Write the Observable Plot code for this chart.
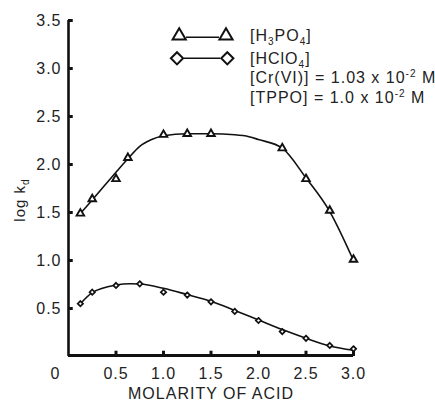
<!DOCTYPE html>
<html><head><meta charset="utf-8">
<script src="https://cdn.jsdelivr.net/npm/d3@7"></script>
<script src="https://cdn.jsdelivr.net/npm/@observablehq/plot@0.6"></script>
<style>
body{margin:0;background:#fff}
svg text{letter-spacing:1px}
</style>
</head><body><div id="chart"></div>
<script>
// Measured points
const h3po4X = [0.125, 0.25, 0.5, 0.625, 1.0, 1.25, 1.5, 2.25, 2.5, 2.75, 3.0];
const h3po4Y = [1.49, 1.64, 1.85, 2.07, 2.31, 2.32, 2.32, 2.17, 1.85, 1.52, 1.01];
const hclo4X = [0.125, 0.25, 0.5, 0.75, 1.0, 1.25, 1.5, 1.75, 2.0, 2.25, 2.5, 2.75, 3.0];
const hclo4Y = [0.55, 0.67, 0.74, 0.757, 0.67, 0.64, 0.57, 0.47, 0.375, 0.26, 0.19, 0.115, 0.08];
// Fitted (drawn) curves
const h3po4FitX = [0.125, 0.25, 0.5, 0.625, 0.75, 0.875, 1.0, 1.25, 1.5, 1.75, 1.9, 2.0, 2.25, 2.5, 2.75, 3.0];
const h3po4FitY = [1.49, 1.63, 1.92, 2.06, 2.19, 2.26, 2.30, 2.32, 2.32, 2.31, 2.29, 2.26, 2.17, 1.86, 1.51, 1.0];
const hclo4FitX = [0.125, 0.25, 0.5, 0.65, 0.75, 1.0, 1.25, 1.5, 1.75, 2.0, 2.25, 2.5, 2.75, 3.0];
const hclo4FitY = [0.55, 0.665, 0.745, 0.758, 0.755, 0.71, 0.645, 0.575, 0.48, 0.38, 0.28, 0.19, 0.11, 0.065];
// Ticks
const xTicks = [0.5, 1.0, 1.5, 2.0, 2.5, 3.0];
const yTicks = [0.5, 1.0, 1.5, 2.0, 2.5, 3.0, 3.5];
const xLabel = "MOLARITY OF ACID";
const originLabel = "0";

const h3po4 = h3po4X.map((x, i) => ({x, y: h3po4Y[i]}));
const hclo4 = hclo4X.map((x, i) => ({x, y: hclo4Y[i]}));
const h3po4Fit = h3po4FitX.map((x, i) => ({x, y: h3po4FitY[i]}));
const hclo4Fit = hclo4FitX.map((x, i) => ({x, y: hclo4FitY[i]}));

const W = 435, H = 401;
const chart = Plot.plot({
  width: W, height: H,
  marginLeft: 68, marginRight: 82, marginTop: 20, marginBottom: 45,
  style: {fontFamily: "'Liberation Sans', Arial, sans-serif", fontSize: "16px", color: "#222", background: "#fff"},
  x: {domain: [0, 3]},
  y: {domain: [0, 3.5]},
  marks: [
    Plot.axisX({ticks: xTicks, tickSize: 0, tickPadding: 11, tickFormat: d => d.toFixed(1), label: null, fill: "#222"}),
    Plot.axisY({ticks: yTicks, tickSize: 0, tickPadding: 7, tickFormat: d => d.toFixed(1), label: null, fill: "#222"}),
    Plot.text([originLabel], {x: () => 0, y: () => 0, text: d => d, dx: -13, dy: 11, lineAnchor: "top", fill: "#222"}),
    Plot.text([xLabel], {frameAnchor: "bottom", text: d => d, dy: 31, lineAnchor: "top", fill: "#222"}),
    // axes lines
    Plot.ruleX([0], {y1: 0, y2: 3.5, stroke: "#111", strokeWidth: 2.6}),
    Plot.ruleY([0], {x1: 0, x2: 3.0, stroke: "#111", strokeWidth: 2.8, dy: -1}),
    // inward ticks
    Plot.ruleX(xTicks, {x: d => d, y1: 0, y2: 0.055, stroke: "#111", strokeWidth: 3}),
    Plot.ruleY(yTicks, {y: d => d, x1: 0, x2: 0.05, stroke: "#111", strokeWidth: 3}),
    // curves
    Plot.line(h3po4Fit, {x: "x", y: "y", curve: "monotone-x", stroke: "#111", strokeWidth: 1.6}),
    Plot.line(hclo4Fit, {x: "x", y: "y", curve: "monotone-x", stroke: "#111", strokeWidth: 1.6}),
    // markers
    Plot.dot(h3po4, {x: "x", y: "y", symbol: "triangle2", r: 3.6, stroke: "#111", strokeWidth: 1.9, fill: "#fff"}),
    Plot.dot(hclo4, {x: "x", y: "y", symbol: "diamond2", r: 2.4, stroke: "#111", strokeWidth: 1.7, fill: "#fff"})
  ]
});
document.getElementById("chart").appendChild(chart);

// Legend, annotation and y label (subscripts need tspans)
const svg = d3.select(chart);
const g = svg.append("g").attr("font-family", "'Liberation Sans', Arial, sans-serif").attr("font-size", 16).attr("fill", "#222").attr("text-anchor", "start");
g.append("line").attr("x1", 186).attr("x2", 219).attr("y1", 37.3).attr("y2", 37.3).attr("stroke", "#111").attr("stroke-width", 1.6);
[179.2, 226].forEach(cx => g.append("path").attr("d", d3.symbol(d3.symbolTriangle2, 125)()).attr("transform", `translate(${cx},35.8)`).attr("fill", "#fff").attr("stroke", "#111").attr("stroke-width", 2));
g.append("line").attr("x1", 184).attr("x2", 220).attr("y1", 58.3).attr("y2", 58.3).attr("stroke", "#111").attr("stroke-width", 1.6);
[177, 227.3].forEach(cx => g.append("path").attr("d", d3.symbol(d3.symbolDiamond2, 95)()).attr("transform", `translate(${cx},58.3)`).attr("fill", "#fff").attr("stroke", "#111").attr("stroke-width", 2));

function addText(y, parts) {
  const t = g.append("text").attr("x", 250).attr("y", y).attr("text-anchor", "start");
  parts.forEach(p => {
    const s = t.append("tspan").text(p.t);
    if (p.sub) s.attr("font-size", 10).attr("dy", 4);
    if (p.sup) s.attr("font-size", 10).attr("dy", -6);
    if (p.back) s.attr("dy", p.back);
  });
  return t;
}
addText(41, [{t: "[H"}, {t: "3", sub: true}, {t: "PO", back: -4}, {t: "4", sub: true}, {t: "]", back: -4}]);
addText(64, [{t: "[HClO"}, {t: "4", sub: true}, {t: "]", back: -4}]);
addText(83, [{t: "[Cr(VI)] = 1.03 x 10"}, {t: "-2", sup: true}, {t: " M", back: 6}]);
addText(103, [{t: "[TPPO] = 1.0 x 10"}, {t: "-2", sup: true}, {t: " M", back: 6}]);

// y label
const yl = g.append("text").attr("transform", "translate(25,200) rotate(-90)").attr("text-anchor", "middle").attr("font-size", 15);
yl.append("tspan").text("log k");
yl.append("tspan").text("d").attr("font-size", 10).attr("dy", 4);
</script>
</body></html>
